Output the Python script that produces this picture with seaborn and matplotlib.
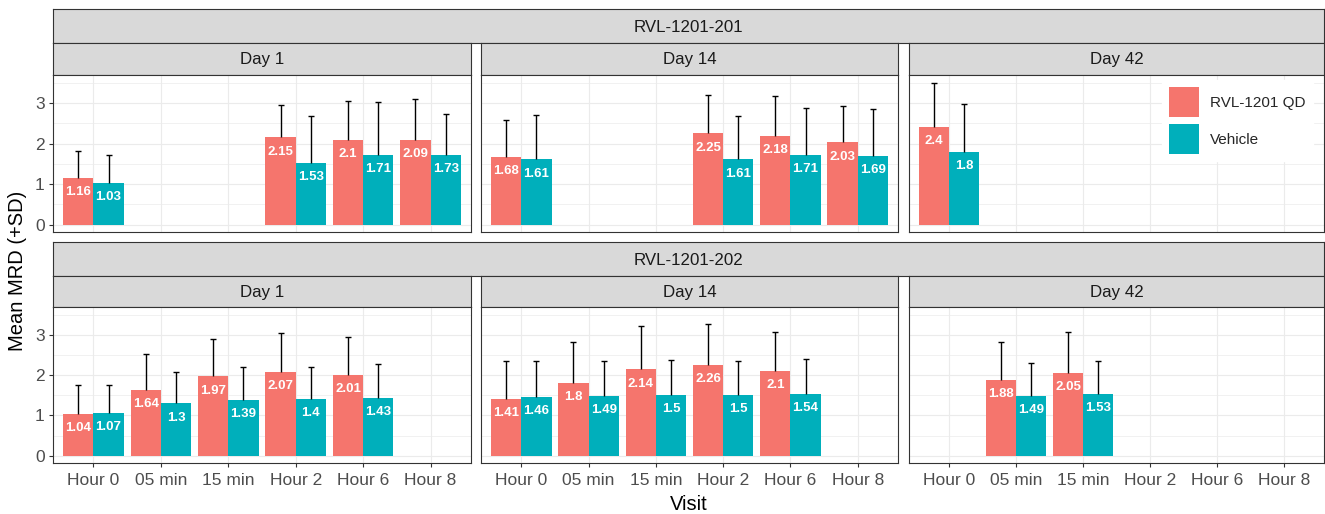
import numpy as np
import pandas as pd
import matplotlib
matplotlib.use("Agg")
import matplotlib.pyplot as plt
import seaborn as sns
from matplotlib.ticker import FixedLocator
from matplotlib.container import BarContainer

# ---------------- data ----------------
visits = ["Hour 0", "05 min", "15 min", "Hour 2", "Hour 6", "Hour 8"]
treatments = ["RVL-1201 QD", "Vehicle"]
studies = ["RVL-1201-201", "RVL-1201-202"]
days = ["Day 1", "Day 14", "Day 42"]
colors = ["#F5756D", "#00AFBB"]

# Study RVL-1201-201
s201_d1_visits = ["Hour 0", "Hour 2", "Hour 6", "Hour 8"]
s201_d1_qd_mean = [1.16, 2.15, 2.10, 2.09]
s201_d1_qd_sd = [0.65, 0.80, 0.95, 1.00]
s201_d1_veh_mean = [1.03, 1.53, 1.71, 1.73]
s201_d1_veh_sd = [0.68, 1.14, 1.31, 1.01]

s201_d14_visits = ["Hour 0", "Hour 2", "Hour 6", "Hour 8"]
s201_d14_qd_mean = [1.68, 2.25, 2.18, 2.03]
s201_d14_qd_sd = [0.89, 0.94, 0.99, 0.89]
s201_d14_veh_mean = [1.61, 1.61, 1.71, 1.69]
s201_d14_veh_sd = [1.10, 1.06, 1.17, 1.15]

s201_d42_visits = ["Hour 0"]
s201_d42_qd_mean = [2.40]
s201_d42_qd_sd = [1.09]
s201_d42_veh_mean = [1.80]
s201_d42_veh_sd = [1.18]

# Study RVL-1201-202
s202_d1_visits = ["Hour 0", "05 min", "15 min", "Hour 2", "Hour 6"]
s202_d1_qd_mean = [1.04, 1.64, 1.97, 2.07, 2.01]
s202_d1_qd_sd = [0.71, 0.88, 0.93, 0.97, 0.93]
s202_d1_veh_mean = [1.07, 1.30, 1.39, 1.40, 1.43]
s202_d1_veh_sd = [0.68, 0.77, 0.81, 0.80, 0.85]

s202_d14_visits = ["Hour 0", "05 min", "15 min", "Hour 2", "Hour 6"]
s202_d14_qd_mean = [1.41, 1.80, 2.14, 2.26, 2.10]
s202_d14_qd_sd = [0.93, 1.03, 1.08, 1.02, 0.97]
s202_d14_veh_mean = [1.46, 1.49, 1.50, 1.50, 1.54]
s202_d14_veh_sd = [0.88, 0.85, 0.88, 0.84, 0.87]

s202_d42_visits = ["05 min", "15 min"]
s202_d42_qd_mean = [1.88, 2.05]
s202_d42_qd_sd = [0.95, 1.02]
s202_d42_veh_mean = [1.49, 1.53]
s202_d42_veh_sd = [0.82, 0.82]

rows = []
def add(study, day, vis, qm, qs, vm, vs):
    for v, m, s in zip(vis, qm, qs):
        rows.append(dict(Study=study, Day=day, Visit=v, Treatment=treatments[0], MRD=m, SD=s))
    for v, m, s in zip(vis, vm, vs):
        rows.append(dict(Study=study, Day=day, Visit=v, Treatment=treatments[1], MRD=m, SD=s))

add(studies[0], days[0], s201_d1_visits, s201_d1_qd_mean, s201_d1_qd_sd, s201_d1_veh_mean, s201_d1_veh_sd)
add(studies[0], days[1], s201_d14_visits, s201_d14_qd_mean, s201_d14_qd_sd, s201_d14_veh_mean, s201_d14_veh_sd)
add(studies[0], days[2], s201_d42_visits, s201_d42_qd_mean, s201_d42_qd_sd, s201_d42_veh_mean, s201_d42_veh_sd)
add(studies[1], days[0], s202_d1_visits, s202_d1_qd_mean, s202_d1_qd_sd, s202_d1_veh_mean, s202_d1_veh_sd)
add(studies[1], days[1], s202_d14_visits, s202_d14_qd_mean, s202_d14_qd_sd, s202_d14_veh_mean, s202_d14_veh_sd)
add(studies[1], days[2], s202_d42_visits, s202_d42_qd_mean, s202_d42_qd_sd, s202_d42_veh_mean, s202_d42_veh_sd)
df = pd.DataFrame(rows)

# ---------------- style ----------------
sns.set_style("white")
plt.rcParams["font.family"] = ["Liberation Sans", "DejaVu Sans"]

W, H = 1325, 514
fig = plt.figure(figsize=(W / 100, H / 100), dpi=100)

def rect(x0, y0, x1, y1):
    return [x0 / W, 1 - y1 / H, (x1 - x0) / W, (y1 - y0) / H]

cols = [(53, 471), (481, 898), (909, 1324)]
panel_rows = [(75, 232), (307, 463)]
outer_strips = [(9, 43), (242, 276)]
inner_strips = [(43, 75), (276, 307)]

BORDER = "#333333"
GRID = "#EBEBEB"

def strip(x0, y0, x1, y1, label):
    a = fig.add_axes(rect(x0, y0, x1, y1))
    a.set_facecolor("#D9D9D9")
    a.set_xticks([]); a.set_yticks([])
    for s in a.spines.values():
        s.set_color(BORDER); s.set_linewidth(0.8)
    a.text(0.5, 0.47, label, ha="center", va="center", fontsize=12.2,
           color="#1A1A1A", transform=a.transAxes)
    return a

for r, study in enumerate(studies):
    strip(cols[0][0], outer_strips[r][0], cols[2][1], outer_strips[r][1], study)
    for c, day in enumerate(days):
        strip(cols[c][0], inner_strips[r][0], cols[c][1], inner_strips[r][1], day)
        ax = fig.add_axes(rect(cols[c][0], panel_rows[r][0], cols[c][1], panel_rows[r][1]))
        sub = df[(df.Study == study) & (df.Day == day)]
        show_leg = (r == 0 and c == 2)
        sns.barplot(data=sub, x="Visit", y="MRD", hue="Treatment", order=visits,
                    hue_order=treatments, palette=colors, width=0.9, errorbar=None,
                    saturation=1, linewidth=0, ax=ax, legend=show_leg, zorder=2)
        bar_conts = [cn for cn in ax.containers if isinstance(cn, BarContainer)]
        # error bars (+SD, upper only) and value labels
        for ci, cont in enumerate(bar_conts):
            trt = treatments[ci]
            for p in cont:
                h = p.get_height()
                if not np.isfinite(h):
                    continue
                xc = p.get_x() + p.get_width() / 2
                vis = visits[int(round(xc))]
                sd = sub[(sub.Visit == vis) & (sub.Treatment == trt)].SD.iloc[0]
                eb = ax.errorbar([xc], [h], yerr=[[0], [sd]], fmt="none", ecolor="black",
                                 elinewidth=1.0, capsize=2.3, capthick=1.0, zorder=3)
                caps = eb.lines[1]
                if len(caps) >= 2:
                    caps[0].set_visible(False)
                ax.annotate(f"{h:g}", xy=(xc, h), xytext=(0, -10.2),
                            textcoords="offset points", ha="center", va="center",
                            color="white", fontsize=9.5, fontweight="bold", zorder=4)
        ax.set_xlim(-0.6, 5.6)
        ax.set_ylim(-0.18, 3.69)
        ax.set_xlabel(""); ax.set_ylabel("")
        ax.set_yticks([0, 1, 2, 3])
        ax.yaxis.set_minor_locator(FixedLocator([0.5, 1.5, 2.5, 3.5]))
        ax.set_axisbelow(True)
        ax.grid(which="major", axis="both", color=GRID, lw=0.85)
        ax.grid(which="minor", axis="y", color=GRID, lw=0.5)
        ax.tick_params(which="minor", left=False, bottom=False, length=0)
        ax.tick_params(which="major", length=2.75, width=0.8, color=BORDER,
                       labelsize=12.5, labelcolor="#4D4D4D")
        ax.tick_params(axis="x", which="major", pad=4.5)
        ax.tick_params(axis="y", which="major", pad=3.3)
        for s in ax.spines.values():
            s.set_color(BORDER); s.set_linewidth(0.8); s.set_zorder(5)
        if c != 0:
            ax.tick_params(axis="y", left=False, labelleft=False)
        else:
            ax.tick_params(axis="y", left=True, labelleft=True)
        if r == 0:
            ax.tick_params(axis="x", bottom=False, labelbottom=False)
        else:
            ax.tick_params(axis="x", bottom=True, labelbottom=True)
        if show_leg:
            leg = ax.get_legend()
            handles = leg.legend_handles
            labels = [t.get_text() for t in leg.get_texts()]
            leg.remove()
            lg = ax.legend(handles, labels, loc="upper left",
                           bbox_to_anchor=(1162 / W, 1 - 80 / H),
                           bbox_transform=fig.transFigure, borderaxespad=0,
                           frameon=True, fancybox=False, framealpha=1,
                           edgecolor="white", facecolor="white", fontsize=11,
                           handlelength=1.95, handleheight=2.7, labelspacing=0.42,
                           handletextpad=0.75, borderpad=0.45)
            lg.set_zorder(6)

fig.text((cols[0][0] + cols[2][1]) / 2 / W, 1 - 505 / H, "Visit", ha="center",
         va="center", fontsize=14.5, color="black")
fig.text(18 / W, 1 - 271 / H, "Mean MRD (+SD)", ha="center", va="center",
         rotation=90, fontsize=14.5, color="black")

fig.savefig("out.png", dpi=100)
